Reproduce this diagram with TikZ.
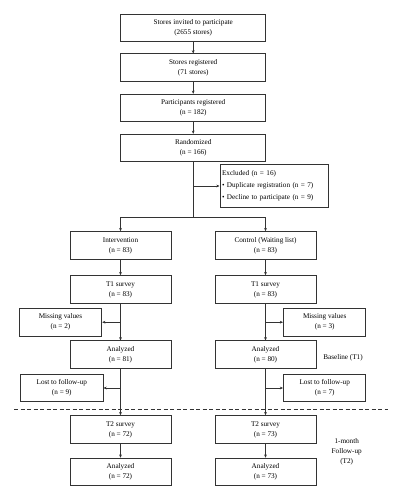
\documentclass[tikz,border=0pt]{standalone}
\usepackage{fontspec}
\setmainfont{Liberation Serif}
\usetikzlibrary{arrows.meta}
\begin{document}
\begin{tikzpicture}[x=1pt,y=-1pt,
  every node/.style={font=\fontsize{7.2}{10}\selectfont},
  box/.style={draw=black!80, line width=1pt, align=center, inner sep=1pt},
  mainbox/.style={box, minimum width=145pt, minimum height=27.4pt},
  armbox/.style={box, minimum width=101pt, minimum height=27.6pt},
  sidebox/.style={box, minimum width=82.4pt, minimum height=27.7pt},
  conn/.style={draw=black!80, line width=1pt},
  arr/.style={conn, -{Stealth[length=3.2pt,width=2.8pt]}},
  lbl/.style={align=center}
]
\useasboundingbox (0,0) rectangle (402,500);
% top chain
\node[mainbox] (b1) at (193.2,28) {Stores invited to participate\\(2655 stores)};
\node[mainbox] (b2) at (193.2,67.7) {Stores registered\\(71 stores)};
\node[mainbox] (b3) at (193.2,108) {Participants registered\\(n = 182)};
\node[mainbox] (b4) at (193.2,148) {Randomized\\(n = 166)};
\node[box, text width=104pt, align=left, inner xsep=2pt, minimum height=43.4pt, font=\fontsize{7.2}{12}\selectfont] (ex) at (274,186)
  {Excluded (n = 16)\\• Duplicate registration (n = 7)\\• Decline to participate (n = 9)};
% arms
\node[armbox] (i1) at (120.5,245.5) {Intervention\\(n = 83)};
\node[armbox] (c1) at (265.5,245.5) {Control (Waiting list)\\(n = 83)};
\node[armbox] (i2) at (120.5,289.5) {T1 survey\\(n = 83)};
\node[armbox] (c2) at (265.5,289.5) {T1 survey\\(n = 83)};
\node[sidebox] (mi) at (60.5,322.2) {Missing values\\(n = 2)};
\node[sidebox] (mc) at (324.7,322.2) {Missing values\\(n = 3)};
\node[armbox] (i3) at (120.5,354.7) {Analyzed\\(n = 81)};
\node[armbox] (c3) at (265.5,354.7) {Analyzed\\(n = 80)};
\node[sidebox] (li) at (61.8,388) {Lost to follow-up\\(n = 9)};
\node[sidebox] (lc) at (324.7,388) {Lost to follow-up\\(n = 7)};
\node[armbox] (i4) at (120.5,429.5) {T2 survey\\(n = 72)};
\node[armbox] (c4) at (265.5,429.5) {T2 survey\\(n = 73)};
\node[armbox] (i5) at (120.5,472) {Analyzed\\(n = 72)};
\node[armbox] (c5) at (265.5,472) {Analyzed\\(n = 73)};
\node[lbl] (bl) at (343,357.7) {Baseline (T1)};
\node[lbl] (fu) at (346.7,452) {1-month\\Follow-up\\(T2)};
% coordinates
\coordinate (split) at (193.2,217.7);
\coordinate (dl) at (14,409.3);
\coordinate (dr) at (388,409.3);
% connectors
\draw[arr] (b1) -- (b2);
\draw[arr] (b2) -- (b3);
\draw[arr] (b3) -- (b4);
\draw[conn] (b4.south) -- (split);
\draw[arr] (b4.south |- ex.west) -- (ex.west);
\draw[arr] (split) -| (i1.north);
\draw[arr] (split) -| (c1.north);
\draw[arr] (i1) -- (i2);
\draw[arr] (c1) -- (c2);
\draw[arr] (i2) -- (i3);
\draw[arr] (c2) -- (c3);
\draw[arr] (i2.south |- mi.east) -- (mi.east);
\draw[arr] (c2.south |- mc.west) -- (mc.west);
\draw[arr] (i3) -- (i4);
\draw[arr] (c3) -- (c4);
\draw[arr] (i3.south |- li.east) -- (li.east);
\draw[arr] (c3.south |- lc.west) -- (lc.west);
\draw[arr] (i4) -- (i5);
\draw[arr] (c4) -- (c5);
\draw[conn, dashed, dash pattern=on 4pt off 2.5pt] (dl) -- (dr);
\end{tikzpicture}
\end{document}
